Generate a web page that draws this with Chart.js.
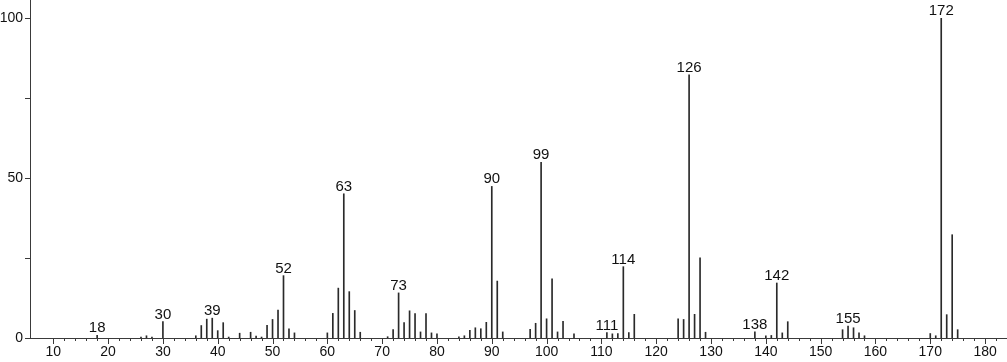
<!DOCTYPE html>
<html>
<head>
<meta charset="utf-8">
<script src="https://cdn.jsdelivr.net/npm/chart.js@4/dist/chart.umd.min.js"></script>
<style>
  html, body { margin: 0; padding: 0; background: #fff; }
  #wrap { width: 1007px; height: 362px; }
</style>
</head>
<body>
<div id="wrap"><canvas id="chart"></canvas></div>
<script>
// m/z values and relative intensities
const masses = [18, 26, 27, 28, 30, 36, 37, 38, 39, 40, 41, 42, 44, 46, 47, 48, 49, 50, 51, 52, 53, 54,
  60, 61, 62, 63, 64, 65, 66, 71, 72, 73, 74, 75, 76, 77, 78, 79, 80, 84, 85, 86, 87, 88, 89, 90, 91, 92,
  97, 98, 99, 100, 101, 102, 103, 105, 111, 112, 113, 114, 115, 116, 124, 125, 126, 127, 128, 129,
  138, 140, 141, 142, 143, 144, 154, 155, 156, 157, 158, 170, 171, 172, 173, 174, 175]
const intensities = [0.8, 0.3, 0.7, 0.3, 5.1, 0.7, 3.9, 5.9, 6.2, 2.3, 4.8, 0.3, 1.5, 1.8, 0.6, 0.3, 4.0, 5.8, 8.7, 19.5, 2.9, 1.6,
  1.6, 7.7, 15.6, 45.1, 14.5, 8.6, 1.8, 0.4, 2.6, 14.1, 4.8, 8.5, 7.6, 1.9, 7.6, 1.6, 1.3, 0.4, 0.7, 2.4, 3.2, 2.9, 4.9, 47.4, 17.8, 1.9,
  2.7, 4.6, 54.9, 6.0, 18.5, 1.9, 5.2, 1.3, 1.7, 1.3, 1.4, 22.3, 1.7, 7.4, 6.0, 5.8, 82.3, 7.4, 25.1, 1.8,
  1.9, 0.7, 0.8, 17.2, 1.6, 5.1, 2.6, 3.7, 3.2, 1.6, 0.7, 1.4, 0.7, 100, 7.3, 32.3, 2.6]
// peaks that carry an m/z label
const labeledPeaks = [18, 30, 39, 52, 63, 73, 90, 99, 111, 114, 126, 138, 142, 155, 172]
const xTickLabels = [10, 20, 30, 40, 50, 60, 70, 80, 90, 100, 110, 120, 130, 140, 150, 160, 170, 180]
const yTickLabels = [0, 50, 100]

const axisColor = '#3a3a3a'
const barColor = '#2a2a2a'
const fontFamily = 'Arial, "Liberation Sans", Helvetica, sans-serif'

// small tick marks on both axes plus the m/z labels over the peaks
const spectrumDecor = {
  id: 'spectrumDecor',
  afterDraw(chart) {
    const { ctx, scales: { x, y } } = chart
    ctx.save()
    ctx.strokeStyle = axisColor
    ctx.lineWidth = 1
    ctx.beginPath()
    for (let m = 10; m <= 182; m += 2) {
      const px = Math.round(x.getPixelForValue(m)) + 0.5
      const len = m % 10 === 0 ? 6 : 3
      ctx.moveTo(px, y.bottom)
      ctx.lineTo(px, y.bottom + len)
    }
    for (let v = 0; v <= 100; v += 25) {
      const py = Math.round(y.getPixelForValue(v)) + 0.5
      ctx.moveTo(x.left - 5, py)
      ctx.lineTo(x.left, py)
    }
    ctx.stroke()

    ctx.fillStyle = '#111'
    ctx.font = '15px ' + fontFamily
    ctx.textAlign = 'center'
    ctx.textBaseline = 'alphabetic'
    labeledPeaks.forEach(m => {
      const i = masses.indexOf(m)
      if (i < 0) return
      const px = x.getPixelForValue(m)
      const py = y.getPixelForValue(intensities[i])
      ctx.fillText(String(m), px, py - 3)
    })
    ctx.restore()
  }
}

new Chart(document.getElementById('chart'), {
  type: 'bar',
  data: {
    datasets: [{
      data: masses.map((m, i) => ({ x: m, y: intensities[i] })),
      backgroundColor: barColor,
      borderWidth: 0,
      barThickness: 1
    }]
  },
  options: {
    responsive: true,
    maintainAspectRatio: false,
    animation: false,
    layout: { padding: 0 },
    plugins: {
      legend: { display: false },
      tooltip: { enabled: false }
    },
    scales: {
      x: {
        type: 'linear',
        min: 5.75,
        max: 184,
        offset: false,
        border: { display: true, color: axisColor, width: 1 },
        grid: { display: false, drawTicks: false },
        ticks: {
          stepSize: 2,
          autoSkip: false,
          maxRotation: 0,
          padding: 6,
          color: '#111',
          font: { size: 14, family: fontFamily },
          callback: v => xTickLabels.includes(v) ? v : ''
        },
        afterFit: scale => {
          scale.height = 24
          scale.paddingLeft = 0
          scale.paddingRight = 0
        }
      },
      y: {
        min: 0,
        max: 105.7,
        border: { display: true, color: axisColor, width: 1 },
        grid: { display: false, drawTicks: false },
        ticks: {
          stepSize: 50,
          padding: 7,
          color: '#111',
          font: { size: 14, family: fontFamily },
          callback: v => yTickLabels.includes(v) ? v : ''
        },
        afterFit: scale => {
          scale.width = 30
          scale.paddingTop = 0
          scale.paddingBottom = 0
        }
      }
    }
  },
  plugins: [spectrumDecor]
})
</script>
</body>
</html>
